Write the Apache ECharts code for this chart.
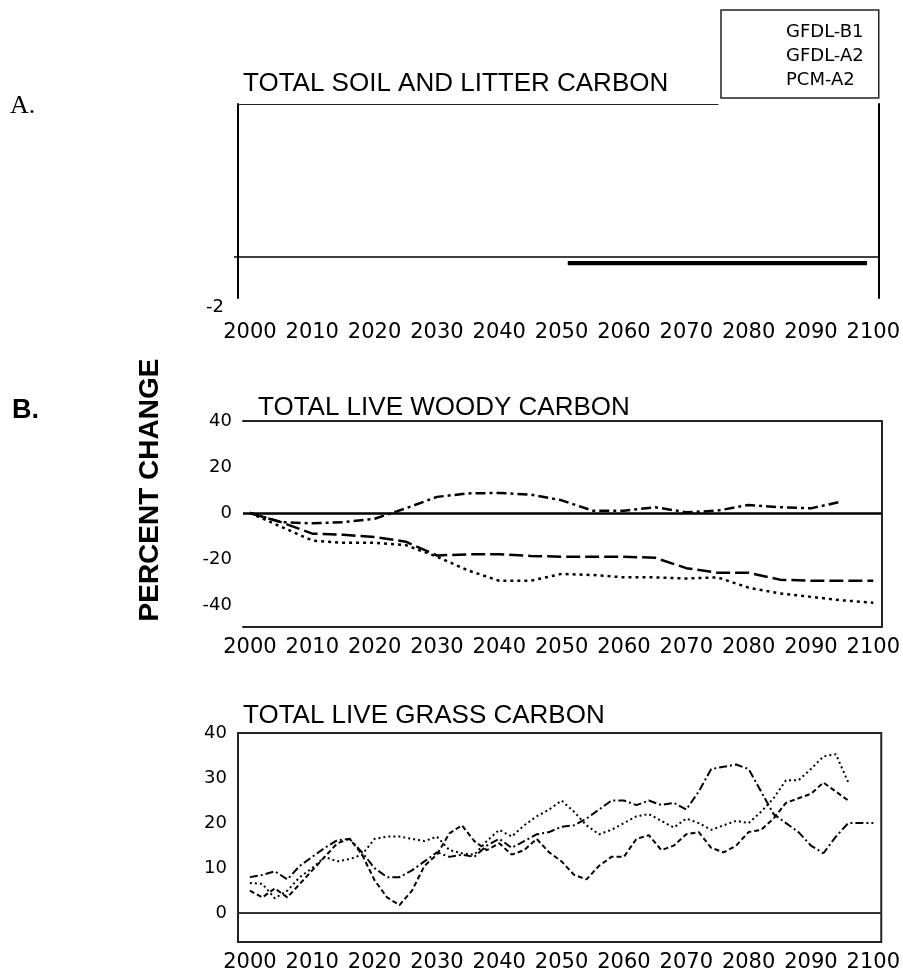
<!DOCTYPE html>
<html>
<head>
<meta charset="utf-8">
<script src="https://cdn.jsdelivr.net/npm/echarts@6/dist/echarts.min.js"></script>
<style>
html,body{margin:0;padding:0;background:#fff;}
#chart{width:903px;height:974px;}
</style>
</head>
<body>
<div id="chart"></div>
<script>
// ---------- data ----------
const SERIES_NAMES = ['GFDL-B1', 'GFDL-A2', 'PCM-A2'];
const X_TICKS = [2000, 2010, 2020, 2030, 2040, 2050, 2060, 2070, 2080, 2090, 2100];

// Panel A: total soil and litter carbon (% change)
const SOIL_YEARS = [2051, 2060, 2070, 2080, 2090, 2099];
const SOIL_B1  = [-0.25, -0.25, -0.25, -0.25, -0.25, -0.25];
const SOIL_A2  = [-0.3, -0.3, -0.3, -0.3, -0.3, -0.3];
const SOIL_PCM = [-0.35, -0.35, -0.35, -0.35, -0.35, -0.35];
const SOIL_Y_LABELS = [-2];

// Panel B: total live woody carbon (% change)
const WOODY_YEARS = [2000, 2005, 2010, 2015, 2020, 2025, 2030, 2035, 2040, 2045, 2050,
                     2055, 2060, 2065, 2070, 2075, 2080, 2085, 2090, 2095, 2100];
const WOODY_B1  = [0, -4, -4.5, -4, -2.5, 2, 7, 8.5, 8.7, 8, 5.5, 1, 1, 2.5, 0.3, 1, 3.5, 2.5, 2, 5, null];
const WOODY_A2  = [0, -4, -9, -9.5, -10.5, -12.5, -18.5, -18, -18, -18.7, -19, -19, -19, -19.5, -24, -26, -26, -29, -29.5, -29.5, -29.5];
const WOODY_PCM = [0, -6, -12, -13, -13, -14, -19, -25, -29.5, -29.5, -26.5, -27, -28, -28, -28.5, -28, -32.5, -35, -36.5, -38, -39];
const WOODY_Y_LABELS = [-40, -20, 0, 20, 40];

// Panel C: total live grass carbon (% change)
const GRASS_YEARS = [2000, 2002, 2004, 2006, 2008, 2010, 2012, 2014, 2016, 2018,
                     2020, 2022, 2024, 2026, 2028, 2030, 2032, 2034, 2036, 2038,
                     2040, 2042, 2044, 2046, 2048, 2050, 2052, 2054, 2056, 2058,
                     2060, 2062, 2064, 2066, 2068, 2070, 2072, 2074, 2076, 2078,
                     2080, 2082, 2084, 2086, 2088, 2090, 2092, 2094, 2096, 2098, 2100];
const GRASS_B1 = [5.0, 3.5, 5.5, 3.5, 6.5, 9.5, 12.5, 15.5, 16.5, 13,
                  7.3, 3.5, 1.8, 5, 10.5, 13, 17.7, 19.5, 16, 14,
                  15.5, 13, 14, 16.5, 13.5, 11.5, 8.5, 7.5, 10.5, 12.5,
                  12.5, 16.5, 17.3, 14, 15, 17.5, 18, 14.5, 13.5, 15,
                  18, 18.5, 21, 24.5, 25.5, 26.5, 29, 27, 25, null, null];
const GRASS_A2 = [6.7, 6.5, 3.3, 5, 8, 10, 12.5, 11.5, 12, 13,
                  16.5, 17, 17, 16.5, 16, 17, 14, 13.3, 13, 16,
                  18.5, 17, 19.5, 21.5, 23, 25, 22.5, 19.5, 17.5, 18.5,
                  20, 21.5, 22, 20.5, 19, 21, 20, 18.5, 19.5, 20.5,
                  20, 22.5, 25.5, 29.5, 29.5, 32, 34.8, 35.3, 29, null, null];
const GRASS_PCM = [8, 8.5, 9.3, 7.5, 10.5, 12.5, 14.5, 16.2, 16.5, 13.5,
                   10, 8, 8, 9.5, 11.5, 13.5, 12.5, 13, 12.5, 15,
                   16.5, 14.5, 16, 17.5, 18, 19.2, 19.5, 21, 23, 25,
                   25, 24, 25, 24, 24.5, 23, 27, 32, 32.5, 33,
                   32, 27, 22, 20, 18, 15, 13.3, 17, 20, 20, 20];
const GRASS_Y_LABELS = [0, 10, 20, 30, 40];

// ---------- helpers ----------
function pairs(xs, ys) { return xs.map((x, i) => [x, ys[i]]); }
const TICK_FONT = { fontFamily: 'DejaVu Sans', fontSize: 21, color: '#000' };
const Y_FONT = { fontFamily: 'DejaVu Sans', fontSize: 18, color: '#000' };
const BOX = { show: true, lineStyle: { color: '#222', width: 2 } };
const NO = { show: false };

function xLabelAxis(gridIndex, min, max, margin, lineShow) {
  return {
    type: 'value', gridIndex, min, max, position: 'bottom',
    axisLine: lineShow ? { show: true, onZero: false, lineStyle: { color: '#222', width: 2 } } : { show: false, onZero: false },
    axisTick: NO, splitLine: NO,
    axisLabel: Object.assign({ show: true, margin, customValues: X_TICKS, formatter: v => String(v) }, TICK_FONT)
  };
}

const chart = echarts.init(document.getElementById('chart'), null, { renderer: 'canvas' });

const woodyStyles = [[10, 4, 3, 4], [14, 5], [3, 4]];
const grassStyles = [[5, 3], [2, 3], [8, 3, 2, 3]];

const series = [];
// Panel A
[SOIL_B1, SOIL_A2, SOIL_PCM].forEach((vals, i) => {
  const s = {
    type: 'line', name: SERIES_NAMES[i], xAxisIndex: 0, yAxisIndex: 0,
    data: pairs(SOIL_YEARS, vals), showSymbol: false, symbol: 'none',
    lineStyle: { color: '#000', width: 2 }, silent: true
  };
  if (i === 0) {
    s.markLine = { silent: true, symbol: ['none', 'none'], label: { show: false },
      lineStyle: { color: '#000', width: 1.5, type: 'solid' }, data: [{ yAxis: 0 }] };
  }
  series.push(s);
});
// Panel B
[WOODY_B1, WOODY_A2, WOODY_PCM].forEach((vals, i) => {
  const s = {
    type: 'line', name: SERIES_NAMES[i], xAxisIndex: 2, yAxisIndex: 3,
    data: pairs(WOODY_YEARS, vals), showSymbol: false, symbol: 'none',
    lineStyle: { color: '#000', width: 2.5, type: woodyStyles[i] }, silent: true
  };
  if (i === 0) {
    s.markLine = { silent: true, symbol: ['none', 'none'], label: { show: false },
      lineStyle: { color: '#000', width: 2.5, type: 'solid' }, data: [{ yAxis: 0 }] };
  }
  series.push(s);
});
// Panel C
[GRASS_B1, GRASS_A2, GRASS_PCM].forEach((vals, i) => {
  const s = {
    type: 'line', name: SERIES_NAMES[i], xAxisIndex: 4, yAxisIndex: 5,
    data: pairs(GRASS_YEARS, vals), showSymbol: false, symbol: 'none',
    lineStyle: { color: '#000', width: 2, type: grassStyles[i] }, silent: true
  };
  if (i === 0) {
    s.markLine = { silent: true, symbol: ['none', 'none'], label: { show: false },
      lineStyle: { color: '#333', width: 2, type: 'solid' }, data: [{ yAxis: 0 }] };
  }
  series.push(s);
});

const option = {
  animation: false,
  backgroundColor: '#fff',
  legend: {
    data: SERIES_NAMES, orient: 'vertical', left: 721, top: 10,
    padding: [10, 15, 6, 60], itemGap: 0, itemWidth: 0, itemHeight: 0, icon: 'rect',
    selectedMode: false, borderColor: '#222', borderWidth: 1.5, backgroundColor: '#fff',
    textStyle: { fontFamily: 'DejaVu Sans', fontSize: 18, color: '#000', lineHeight: 24 }
  },
  grid: [
    { left: 238, top: 104, width: 644, height: 194 },          // A
    { left: 238, top: 104, width: 480, height: 1 },            // A top rule
    { left: 243, top: 421, width: 642, height: 206 },          // B
    { left: 238, top: 733, width: 647, height: 209, show: true, borderColor: '#222', borderWidth: 2, backgroundColor: 'transparent' } // C
  ],
  xAxis: [
    xLabelAxis(0, 1998.09, 2100.8, 24, false),
    { type: 'value', gridIndex: 1, min: 0, max: 1, position: 'top',
      axisLine: { show: true, onZero: false, lineStyle: { color: '#222', width: 1.2 } },
      axisTick: NO, axisLabel: NO, splitLine: NO },
    xLabelAxis(2, 1998.88, 2101.28, 10, true),
    { type: 'value', gridIndex: 2, min: 1998.88, max: 2101.28, position: 'top',
      axisLine: { show: true, onZero: false, lineStyle: { color: '#222', width: 2 } },
      axisTick: NO, axisLabel: NO, splitLine: NO },
    xLabelAxis(3, 1998.09, 2101.28, 10, false)
  ],
  yAxis: [
    { type: 'value', gridIndex: 0, min: -2, max: 7.46, position: 'left',
      axisLine: { show: true, onZero: false, lineStyle: { color: '#000', width: 2 } },
      axisTick: { show: true, length: 4, customValues: [0], lineStyle: { color: '#000', width: 1.5 } },
      axisLabel: Object.assign({ show: true, margin: 14, customValues: SOIL_Y_LABELS, verticalAlign: 'top' }, Y_FONT),
      splitLine: NO },
    { type: 'value', gridIndex: 0, min: -2, max: 7.46, position: 'right',
      axisLine: { show: true, onZero: false, lineStyle: { color: '#000', width: 2 } },
      axisTick: NO, axisLabel: NO, splitLine: NO },
    { type: 'value', gridIndex: 1, min: 0, max: 1, show: false },
    { type: 'value', gridIndex: 2, min: -49.6, max: 40, position: 'left',
      axisLine: NO, axisTick: NO, splitLine: NO,
      axisLabel: Object.assign({ show: true, margin: 11, customValues: WOODY_Y_LABELS }, Y_FONT) },
    { type: 'value', gridIndex: 2, min: -49.6, max: 40, position: 'right',
      axisLine: { show: true, onZero: false, lineStyle: { color: '#222', width: 2 } },
      axisTick: NO, axisLabel: NO, splitLine: NO },
    { type: 'value', gridIndex: 3, min: -6.4, max: 40, position: 'left',
      axisLine: NO, axisTick: NO, splitLine: NO,
      axisLabel: Object.assign({ show: true, margin: 11, customValues: GRASS_Y_LABELS }, Y_FONT) }
  ],
  graphic: [
    { type: 'text', x: 10, y: 106, style: { text: 'A.', font: '26px "Liberation Serif"', fill: '#000', align: 'left', verticalAlign: 'middle', textAlign: 'left', textVerticalAlign: 'middle' } },
    { type: 'text', x: 12, y: 411, style: { text: 'B.', font: 'bold 27px "Liberation Sans"', fill: '#000', align: 'left', verticalAlign: 'middle', textAlign: 'left', textVerticalAlign: 'middle' } },
    { type: 'text', x: 150, y: 490, rotation: Math.PI / 2, style: { text: 'PERCENT CHANGE', font: 'bold 28px "Liberation Sans"', fill: '#000', align: 'center', verticalAlign: 'middle', textAlign: 'center', textVerticalAlign: 'middle' } },
    { type: 'text', x: 243, y: 84, style: { text: 'TOTAL SOIL AND LITTER CARBON', font: '26px "Liberation Sans"', fill: '#000', align: 'left', verticalAlign: 'middle', textAlign: 'left', textVerticalAlign: 'middle' } },
    { type: 'text', x: 258, y: 408, style: { text: 'TOTAL LIVE WOODY CARBON', font: '26px "Liberation Sans"', fill: '#000', align: 'left', verticalAlign: 'middle', textAlign: 'left', textVerticalAlign: 'middle' } },
    { type: 'text', x: 243, y: 716, style: { text: 'TOTAL LIVE GRASS CARBON', font: '26px "Liberation Sans"', fill: '#000', align: 'left', verticalAlign: 'middle', textAlign: 'left', textVerticalAlign: 'middle' } }
  ],
  series
};
chart.setOption(option);
</script>
</body>
</html>
